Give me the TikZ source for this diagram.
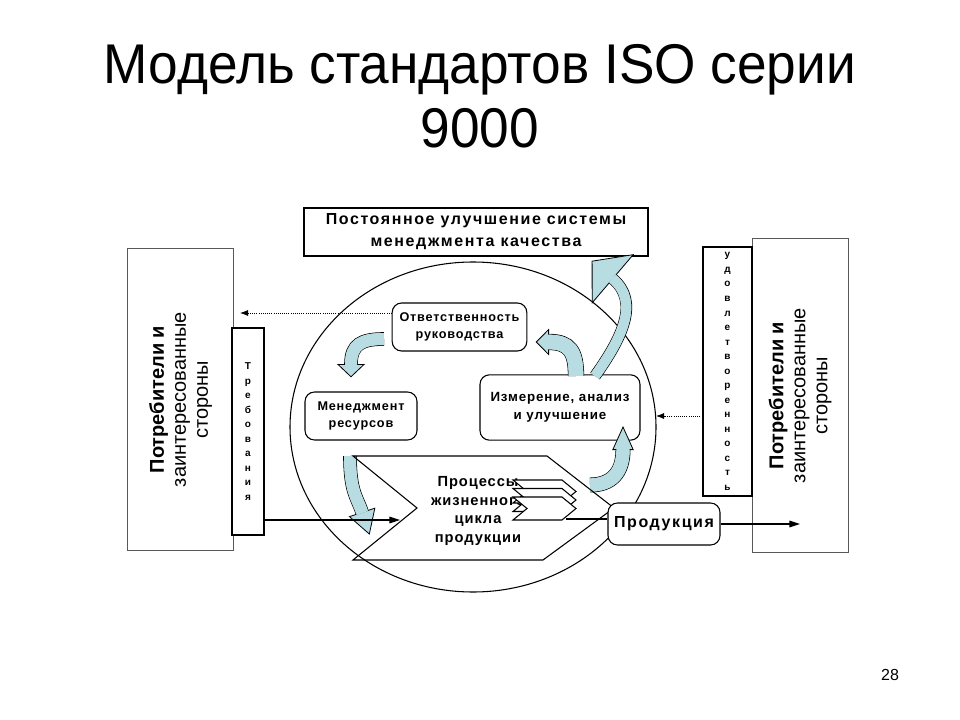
\documentclass[tikz,border=0pt]{standalone}
\usepackage{fontspec}
\setmainfont{Liberation Sans}
\newfontfamily\titlefont[FakeStretch=0.95]{Liberation Sans}
\newfontfamily\boxfont[LetterSpace=6.5]{Liberation Sans}
\newfontfamily\wideboxfont[LetterSpace=10]{Liberation Sans}
\usetikzlibrary{arrows.meta}
\usetikzlibrary{calc}
\usetikzlibrary{shapes.geometric}
\definecolor{arrowblue}{RGB}{183,221,226}

\tikzstyle{block}=[
   rectangle,
   thick,
   draw=black,
   fill=white,
   align=center,
   inner sep=1pt,
   font=\boxfont\bfseries\fontsize{9.5}{12.75}\selectfont
]
\tikzstyle{rblock}=[block, rounded corners=2.5mm]
\tikzstyle{side}=[rectangle, draw=black!65, semithick, align=center, inner sep=1pt]
\tikzstyle{letters}=[rectangle, draw=black, line width=1.2pt, fill=white, align=center,
   inner sep=1pt, font=\bfseries\fontsize{7.5}{10.9}\selectfont]
\tikzstyle{dotarrow}=[densely dotted, semithick, -{Latex[length=6pt,width=4.5pt]}]
\tikzstyle{blueline}=[line width=0.6pt, draw=black]

% curved block arrow: shaft width, head width, head length, start, control 1, control 2, head base
\newcommand{\bluearrow}[7]{%
  \draw[blueline, double=arrowblue, double distance=#1] (#4) .. controls (#5) and (#6) .. (#7);
  \draw[blueline, -{Triangle[width=#2,length=#3,fill=arrowblue]}] (#7) -- ($(#7)!#3!180:(#6)$);
  \draw[arrowblue, line width=#1, shorten >=-0.8pt] (#4) .. controls (#5) and (#6) .. (#7);
}

\begin{document}
\begin{tikzpicture}[x=0.75pt,y=-0.75pt]
  \useasboundingbox (0,0) rectangle (960,720);

  \node[anchor=north, align=center, font=\titlefont\fontsize{42}{47.5}\selectfont] (title) at (480,40)
       {Модель стандартов ISO серии\\9000};

  \node[side, rotate=90, minimum width=227pt, minimum height=79pt, font=\fontsize{15}{16.5}\selectfont]
       (lbox) at (180.5,399.5) {\textbf{Потребители и}\\заинтересованные\\стороны};
  \node[side, rotate=90, minimum width=235pt, minimum height=72pt, font=\fontsize{15}{16.5}\selectfont]
       (rbox) at (800,395.5) {\textbf{Потребители и}\\заинтересованные\\стороны};

  \node[letters, minimum width=24pt, minimum height=155pt] (treb) at (248,431.5)
       {Т\\р\\е\\б\\о\\в\\а\\н\\и\\я};
  \node[letters, minimum width=37pt, minimum height=187pt] (udov) at (727.5,371.5)
       {у\\д\\о\\в\\л\\е\\т\\в\\о\\р\\е\\н\\н\\о\\с\\т\\ь};

  \node[ellipse, draw, thick, minimum width=274.5pt, minimum height=247.5pt, inner sep=0pt, outer sep=0pt]
       (ell) at (473,427) {};

  \node[block, line width=1.2pt, minimum width=258pt, minimum height=36pt,
        font=\wideboxfont\bfseries\fontsize{12}{16.5}\selectfont]
       (impr) at (476,232) {Постоянное улучшение системы\\менеджмента качества};

  \node[rblock, minimum width=101pt, minimum height=36pt] (otv) at (459.5,327) {Ответственность\\руководства};
  \node[rblock, minimum width=84pt, minimum height=36pt]  (res) at (361,416)   {Менеджмент\\ресурсов};
  \node[rblock, minimum width=120pt, minimum height=49pt, font=\boxfont\bfseries\fontsize{10}{13.5}\selectfont]
       (izm) at (560,407.5) {Измерение, анализ\\и улучшение};

  % blue arrows of the cycle
  \bluearrow{9pt}{21pt}{10pt}{384,339}{362,339}{351,344}{351,364}
  \bluearrow{9pt}{21pt}{18pt}{350,456}{350,492}{357,497}{362,512}
  \bluearrow{10pt}{16pt}{18pt}{590,485}{612,485}{623,472}{623,450}
  \bluearrow{11pt}{20pt}{10pt}{576,376}{576,352}{570,342}{549,342}
  \bluearrow{7.5pt}{49pt}{21pt}{595,376}{622,338}{640,302}{613,279}

  % process of the life cycle
  \draw[thick] (353,456) -- (547,456) -- (614,508) -- (543,560) -- (353,560) -- (417,508) -- cycle;
  \node[font=\boxfont\bfseries\fontsize{11}{14}\selectfont, align=center] (proc) at (478,511)
       {Процессы\\жизненного\\цикла\\продукции};
  \draw[thick, fill=white] (513,480) -- (562,480) -- (576,491.5) -- (562,503) -- (513,503) -- (527,491.5) -- cycle;
  \draw[thick, fill=white] (513,488.5) -- (562,488.5) -- (576,500) -- (562,511.5) -- (513,511.5) -- (527,500) -- cycle;
  \draw[thick, fill=white] (513,497) -- (562,497) -- (576,508.5) -- (562,520) -- (513,520) -- (527,508.5) -- cycle;

  \node[rblock, minimum width=84pt, minimum height=31.5pt, font=\wideboxfont\bfseries\fontsize{12}{13}\selectfont]
       (prod) at (664,524) {Продукция};

  \coordinate (pin)  at (400,520);
  \coordinate (pout) at (566,519);
  \coordinate (lout) at (240,313);
  \coordinate (rin)  at (700,416);

  \draw[thick, -{Triangle[length=8pt,width=5pt]}] (treb.east |- pin) -- (pin);
  \draw[thick] (pout) -- (prod.west |- pout);
  \draw[thick, -{Triangle[length=8pt,width=5pt]}] (prod.east) -- (rbox.west |- prod.east);
  \draw[dotarrow] (otv.west |- lout) -- (lout);
  \draw[dotarrow] (rin) -- (ell.east |- rin);

  \node[font=\fontsize{12}{14}\selectfont] (page) at (890,675) {28};
\end{tikzpicture}
\end{document}
